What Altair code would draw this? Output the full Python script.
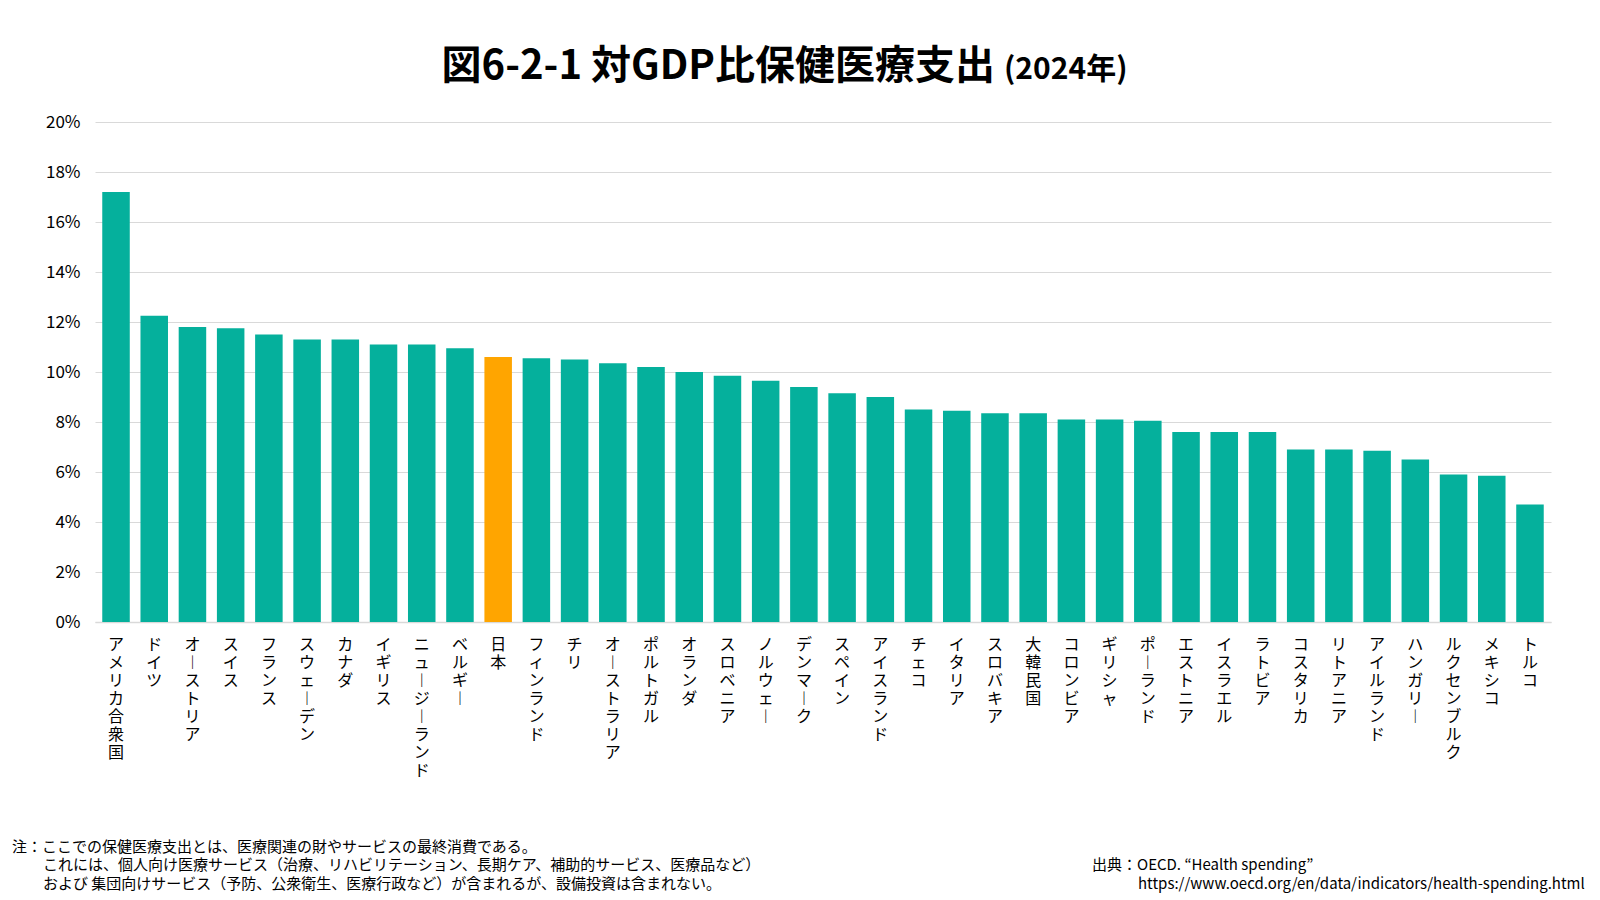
import altair as alt
import pandas as pd

countries = ["アメリカ合衆国", "ドイツ", "オーストリア", "スイス", "フランス", "スウェーデン", "カナダ",
             "イギリス", "ニュージーランド", "ベルギー", "日本", "フィンランド", "チリ", "オーストラリア",
             "ポルトガル", "オランダ", "スロベニア", "ノルウェー", "デンマーク", "スペイン", "アイスランド",
             "チェコ", "イタリア", "スロバキア", "大韓民国", "コロンビア", "ギリシャ", "ポーランド",
             "エストニア", "イスラエル", "ラトビア", "コスタリカ", "リトアニア", "アイルランド",
             "ハンガリー", "ルクセンブルク", "メキシコ", "トルコ"]
values = [17.2, 12.25, 11.8, 11.75, 11.5, 11.3, 11.3,
          11.1, 11.1, 10.95, 10.6, 10.55, 10.5, 10.35,
          10.2, 10.0, 9.85, 9.65, 9.4, 9.15, 9.0,
          8.5, 8.45, 8.35, 8.35, 8.1, 8.1, 8.05,
          7.6, 7.6, 7.6, 6.9, 6.9, 6.85,
          6.5, 5.9, 5.85, 4.7]
highlight = "日本"
y_ticks = [0, 2, 4, 6, 8, 10, 12, 14, 16, 18, 20]

title_main = "図6-2-1 対GDP比保健医療支出"
title_sub = "(2024年)"
notes = ["注：ここでの保健医療支出とは、医療関連の財やサービスの最終消費である。",
         "これには、個人向け医療サービス（治療、リハビリテーション、長期ケア、補助的サービス、医療品など）",
         "および 集団向けサービス（予防、公衆衛生、医療行政など）が含まれるが、設備投資は含まれない。"]
source = ["出典：OECD. “Health spending”",
          "https://www.oecd.org/en/data/indicators/health-spending.html"]

FONT = "Noto Sans CJK JP"
TEAL = "#05B09C"
ORANGE = "#FFA500"

df = pd.DataFrame({"country": countries, "value": values})

bars = alt.Chart(df).mark_bar().encode(
    x=alt.X("country:N", sort=None, title=None,
            scale=alt.Scale(paddingInner=0.28, paddingOuter=0.19),
            axis=alt.Axis(labelAngle=0, labelBaseline="top", labelAlign="center",
                          labelExpr="split(replace(datum.label, regexp('ー', 'g'), '︱'), '')",
                          labelLineHeight=18, labelFontSize=16, labelPadding=14,
                          labelOverlap=False, labelBound=False, ticks=False,
                          domain=True, domainColor="#d9d9d9", domainWidth=1.5,
                          labelColor="#000000", labelFont=FONT)),
    y=alt.Y("value:Q", title=None,
            scale=alt.Scale(domain=[0, 20], nice=False),
            axis=alt.Axis(values=y_ticks, labelExpr="datum.value + '%'", labelFontSize=17,
                          labelPadding=15, ticks=False, domain=False, grid=True,
                          gridColor="#d9d9d9", gridWidth=1.2, labelColor="#000000",
                          labelFont=FONT)),
    color=alt.condition(alt.datum.country == highlight, alt.value(ORANGE), alt.value(TEAL)),
)


def text_layer(txt, x, y, size, weight="normal", align="left", baseline="middle"):
    return alt.Chart(pd.DataFrame({"t": [txt]})).mark_text(
        font=FONT, fontSize=size, fontWeight=weight, align=align, baseline=baseline,
        color="#000000"
    ).encode(text="t:N", x=alt.value(x), y=alt.value(y))


layers = [bars,
          text_layer(title_main, 900, -43, 40, "bold", "right", "alphabetic"),
          text_layer(title_sub, 909, -43, 30, "bold", "left", "alphabetic"),
          text_layer(notes[0], -83, 725, 15),
          text_layer(notes[1], -52, 743, 15),
          text_layer(notes[2], -52, 762, 15),
          text_layer(source[0], 997, 743, 15),
          text_layer(source[1], 1043, 762, 15)]

chart = alt.layer(*layers).properties(
    width=1456, height=500,
    autosize=alt.AutoSizeParams(type="none"),
    padding={"left": 95, "top": 122, "right": 49, "bottom": 278},
    background="white",
).configure_view(stroke=None)

chart.save("out.html", embed_options={"renderer": "svg", "actions": False})
